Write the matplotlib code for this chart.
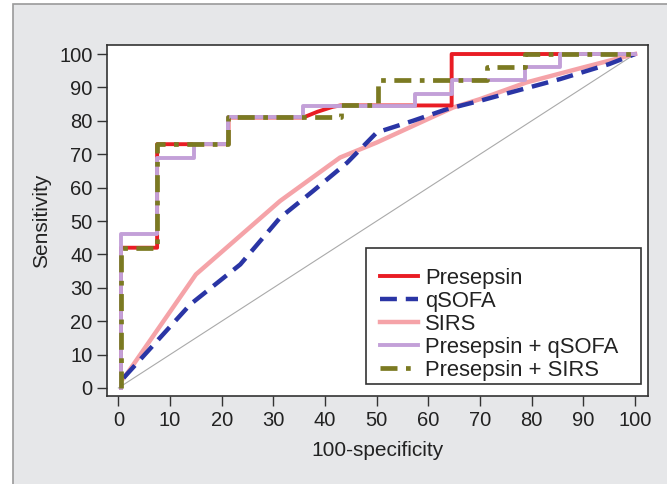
import matplotlib
matplotlib.use("Agg")
import matplotlib.pyplot as plt
from matplotlib.patches import Rectangle

plt.rcParams["font.family"] = ["Liberation Sans", "DejaVu Sans"]

# ROC curves (x = 100-specificity, y = sensitivity)
presepsin_x = [0.5, 0.5, 7.5, 7.5, 21.3, 21.3, 35.8, 38.5, 41.5, 43.0, 64.5, 64.5, 100]
presepsin_y = [0, 42, 42, 73, 73, 81, 81, 82.7, 84.2, 84.6, 84.6, 100, 100]

qsofa_x = [1, 13.9, 23.6, 31.3, 37.7, 44.3, 50, 57, 63.6, 70, 78.3, 85.5, 95, 100]
qsofa_y = [3, 25, 37, 51, 59, 67.5, 76.5, 80, 83.5, 86, 89.5, 92.5, 97, 100]

sirs_x = [1, 2, 15, 31.3, 42.9, 50, 64.8, 70, 79, 90, 100]
sirs_y = [3, 5, 34, 56, 69, 73.5, 84, 86.5, 91.5, 96, 100]

pq_x = [0.5, 0.5, 7.5, 7.5, 14.7, 14.7, 21.3, 21.3, 35.8, 35.8, 57.4, 57.4,
        64.6, 64.6, 78.7, 78.7, 85.5, 85.5, 100]
pq_y = [0, 46, 46, 69, 69, 73, 73, 81, 81, 84.5, 84.5, 88, 88, 92.3, 92.3,
        96.2, 96.2, 100, 100]

ps_x = [0.5, 0.5, 7.5, 7.5, 21.3, 21.3, 43.0, 43.0, 50.2, 50.2, 71.4, 71.4,
        78.6, 78.6, 100]
ps_y = [0, 42, 42, 73, 73, 81, 81, 84.6, 84.6, 92.3, 92.3, 96.2, 96.2, 100, 100]

ticks = [0, 10, 20, 30, 40, 50, 60, 70, 80, 90, 100]

W, H = 667, 484
fig = plt.figure(figsize=(W / 100, H / 100), dpi=100)
fig.patch.set_facecolor("white")
panel = Rectangle((13 / W, -0.1), 1.0, 1.1 - 4 / H,
                  transform=fig.transFigure, facecolor="#e6e7e9",
                  edgecolor="#9a9a9a", linewidth=1.2, zorder=-10)
fig.add_artist(panel)

ax = fig.add_axes([107 / W, 88 / H, 541 / W, 351 / H])
ax.set_zorder(1)
ax.set_facecolor("white")

ax.plot([0, 100], [0, 100], color="#aaaaaa", linewidth=0.8)
l3, = ax.plot(sirs_x, sirs_y, color="#f5a3a8", linewidth=3.2, label="SIRS")
l2, = ax.plot(qsofa_x, qsofa_y, color="#2a35a5", linewidth=3.2,
              dashes=(3.8, 2.0), label="qSOFA")
l1, = ax.plot(presepsin_x, presepsin_y, color="#e91c24", linewidth=2.8,
              label="Presepsin")
l4, = ax.plot(pq_x, pq_y, color="#c3a0d8", linewidth=2.8,
              label="Presepsin + qSOFA")
l5, = ax.plot(ps_x, ps_y, color="#7b7a22", linewidth=3.4,
              dashes=(3.6, 1.8, 1.0, 1.8), label="Presepsin + SIRS")

ax.set_xlim(-2.2, 102.5)
ax.set_ylim(-2.4, 102.7)
ax.set_xticks(ticks)
ax.set_yticks(ticks)
ax.tick_params(labelsize=14.5, length=7.5, width=1, color="#333333",
               labelcolor="#222222", pad=3)
for s in ax.spines.values():
    s.set_color("#333333")
    s.set_linewidth(1.2)

ax.set_xlabel("100-specificity", fontsize=15, color="#222222", labelpad=8)
ax.set_ylabel("Sensitivity", fontsize=15, color="#222222", labelpad=6)

# legend frame drawn separately so the last entry can touch its bottom edge
ax.add_patch(Rectangle(((366 - 107) / 541, (396 - 384) / 351),
                       (641 - 366) / 541, (384 - 248) / 351,
                       transform=ax.transAxes, facecolor="white",
                       edgecolor="#333333", linewidth=1.2, zorder=4))
leg = ax.legend(handles=[l1, l2, l3, l4, l5], loc="upper left",
                bbox_to_anchor=((380 - 107) / 541, (396 - 268) / 351),
                fontsize=15.8, frameon=False, handlelength=1.75,
                labelspacing=0.09, borderaxespad=0, handletextpad=0.3,
                borderpad=0)
leg.set_zorder(5)
for t in leg.get_texts():
    t.set_color("#222222")

fig.savefig("out.png", dpi=100)
